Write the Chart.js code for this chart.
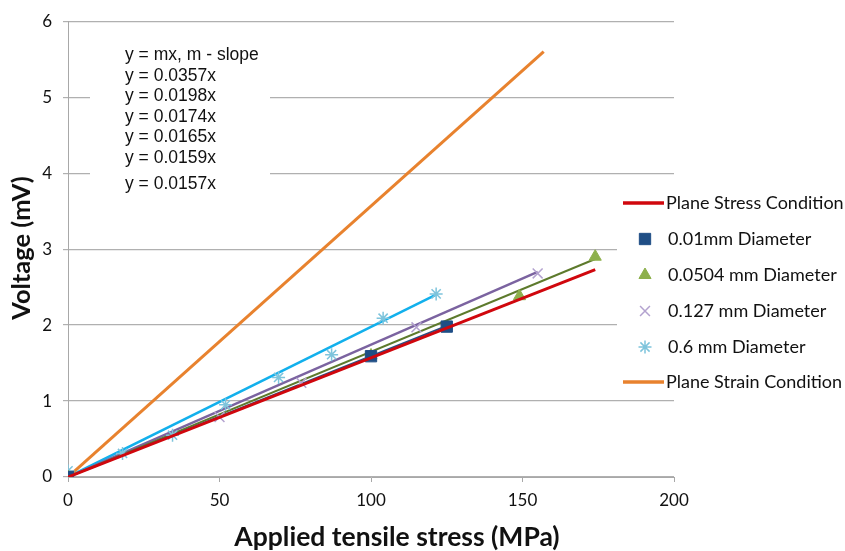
<!DOCTYPE html>
<html>
<head>
<meta charset="utf-8">
<script src="https://cdn.jsdelivr.net/npm/chart.js@4.4.1/dist/chart.umd.min.js"></script>
<style>
  html, body { margin: 0; padding: 0; background: #fff; }
  #wrap { width: 845px; height: 551px; }
</style>
</head>
<body>
<div id="wrap"><canvas id="chart" width="845" height="551"></canvas></div>
<script>
// Data
const stressTicks = [0, 50, 100, 150, 200];
const voltageTicks = [0, 1, 2, 3, 4, 5, 6];

const planeStressX = [0, 174];
const planeStressV = [0, 2.73];

const d001X = [0, 100, 125];
const d001V = [0, 1.59, 1.98];
const d001TrendX = [0, 125];
const d001TrendV = [0, 1.99];

const d0504X = [0, 100, 149, 174];
const d0504V = [0, 1.60, 2.38, 2.90];
const d0504TrendX = [0, 174];
const d0504TrendV = [0, 2.87];

const d0127X = [0, 50, 77, 115, 155];
const d0127V = [0, 0.79, 1.24, 1.97, 2.68];
const d0127TrendX = [0, 155];
const d0127TrendV = [0, 2.70];

const d06X = [0, 18, 34.5, 52, 69.5, 87, 104, 121.5];
const d06V = [0.08, 0.31, 0.55, 0.95, 1.31, 1.61, 2.09, 2.41];
const d06TrendX = [0, 122];
const d06TrendV = [0, 2.41];

const planeStrainX = [0, 157];
const planeStrainV = [0, 5.6];

const slopeNotes = [
  "y = mx, m - slope",
  "y = 0.0357x",
  "y = 0.0198x",
  "y = 0.0174x",
  "y = 0.0165x",
  "y = 0.0159x",
  "y = 0.0157x"
];

function pts(xs, ys) {
  return xs.map((x, i) => ({ x: x, y: ys[i] }));
}

const datasets = [
  {
    label: "Plane Stress Condition",
    data: pts(planeStressX, planeStressV),
    showLine: true, borderColor: "#d0070d", borderWidth: 3, pointRadius: 0,
    legendKind: "line"
  },
  {
    label: "0.01mm Diameter",
    data: pts(d001X, d001V),
    showLine: false, pointStyle: "rect", pointRadius: 8,
    backgroundColor: "#1f4e85", borderColor: "#1f4e85", borderWidth: 1,
    legendKind: "point"
  },
  {
    label: "0.0504 mm Diameter",
    data: pts(d0504X, d0504V),
    showLine: false, pointStyle: "triangle", pointRadius: 7,
    backgroundColor: "#8db04c", borderColor: "#8db04c", borderWidth: 1,
    legendKind: "point"
  },
  {
    label: "0.127 mm Diameter",
    data: pts(d0127X, d0127V),
    showLine: false, pointStyle: "cross", rotation: 45, pointRadius: 7,
    backgroundColor: "#b3a2cf", borderColor: "#b3a2cf", borderWidth: 1.5,
    legendKind: "point"
  },
  {
    label: "0.6 mm Diameter",
    data: pts(d06X, d06V),
    showLine: false, pointStyle: "star", pointRadius: 6.5,
    backgroundColor: "#7ec4dc", borderColor: "#7ec4dc", borderWidth: 1.5,
    legendKind: "point"
  },
  {
    label: "Plane Strain Condition",
    data: pts(planeStrainX, planeStrainV),
    showLine: true, borderColor: "#e8822e", borderWidth: 3, pointRadius: 0,
    legendKind: "line"
  },
  // trend lines (not in legend)
  { label: "t001", data: pts(d001TrendX, d001TrendV), showLine: true, borderColor: "#2c4d80", borderWidth: 2, pointRadius: 0 },
  { label: "t0504", data: pts(d0504TrendX, d0504TrendV), showLine: true, borderColor: "#5d7a2c", borderWidth: 2, pointRadius: 0 },
  { label: "t0127", data: pts(d0127TrendX, d0127TrendV), showLine: true, borderColor: "#7b63a0", borderWidth: 2.5, pointRadius: 0 },
  { label: "t06", data: pts(d06TrendX, d06TrendV), showLine: true, borderColor: "#12b0ec", borderWidth: 2.5, pointRadius: 0 }
];

// slope notes box + legend + axis titles
const extras = {
  id: "extras",
  afterDatasetsDraw(chart) {
    const ctx = chart.ctx;
    ctx.save();

    // slope note box
    ctx.fillStyle = "#fff";
    ctx.fillRect(90, 38, 180, 158);
    ctx.fillStyle = "#111";
    ctx.font = "17.5px 'Liberation Sans', Arial, sans-serif";
    ctx.textBaseline = "middle";
    ctx.textAlign = "left";
    const noteY = [55, 76, 96.5, 117, 137.5, 158, 184];
    slopeNotes.forEach((t, i) => ctx.fillText(t, 125, noteY[i]));

    // legend
    ctx.fillStyle = "#fff";
    ctx.fillRect(617, 186, 228, 210);
    const rowY = [203, 239, 275, 311, 347, 382];
    ctx.font = "18px Lato, 'Open Sans', sans-serif";
    let row = 0;
    chart.data.datasets.forEach((ds) => {
      if (!ds.legendKind) return;
      const y = rowY[row++];
      if (ds.legendKind === "line") {
        ctx.strokeStyle = ds.borderColor;
        ctx.lineWidth = 3.5;
        ctx.beginPath();
        ctx.moveTo(623, y);
        ctx.lineTo(664, y);
        ctx.stroke();
      } else {
        ctx.fillStyle = ds.backgroundColor;
        ctx.strokeStyle = ds.borderColor;
        ctx.lineWidth = ds.borderWidth;
        Chart.helpers.drawPoint(ctx, {
          pointStyle: ds.pointStyle,
          rotation: ds.rotation || 0,
          radius: ds.pointRadius,
          borderWidth: ds.borderWidth
        }, 645, y);
      }
      ctx.fillStyle = "#111";
      ctx.fillText(ds.label, ds.legendKind === "line" ? 666 : 668, y);
    });

    // axis titles
    ctx.fillStyle = "#111";
    ctx.font = "bold 26.5px Lato, 'Open Sans', sans-serif";
    ctx.textAlign = "center";
    ctx.fillText("Applied tensile stress (MPa)", 397, 537);
    ctx.translate(22, 248);
    ctx.rotate(-Math.PI / 2);
    ctx.font = "bold 25.5px Lato, 'Open Sans', sans-serif";
    ctx.fillText("Voltage (mV)", 0, 0);
    ctx.restore();
  }
};

new Chart(document.getElementById("chart"), {
  type: "scatter",
  data: { datasets: datasets },
  plugins: [extras],
  options: {
    responsive: false,
    animation: false,
    layout: { padding: { top: 19, right: 171, left: 0, bottom: 0 } },
    plugins: {
      legend: { display: false },
      tooltip: { enabled: false }
    },
    scales: {
      x: {
        type: "linear",
        min: stressTicks[0],
        max: stressTicks[stressTicks.length - 1],
        afterBuildTicks: (s) => { s.ticks = stressTicks.map((v) => ({ value: v })); },
        afterFit: (s) => { s.height = 74; },
        grid: { drawOnChartArea: false, drawTicks: true, tickLength: 5, color: "#a8a8a8" },
        border: { color: "#a8a8a8", width: 1 },
        ticks: { color: "#111", padding: 8, font: { family: "Lato", size: 17 } }
      },
      y: {
        type: "linear",
        min: voltageTicks[0],
        max: voltageTicks[voltageTicks.length - 1],
        afterBuildTicks: (s) => { s.ticks = voltageTicks.map((v) => ({ value: v })); },
        afterFit: (s) => { s.width = 68; },
        grid: { color: "#b0b0b0", lineWidth: 1.2, tickLength: 5 },
        border: { color: "#a8a8a8", width: 1 },
        ticks: { color: "#111", padding: 11, font: { family: "Lato", size: 17 } }
      }
    }
  }
});
</script>
</body>
</html>
